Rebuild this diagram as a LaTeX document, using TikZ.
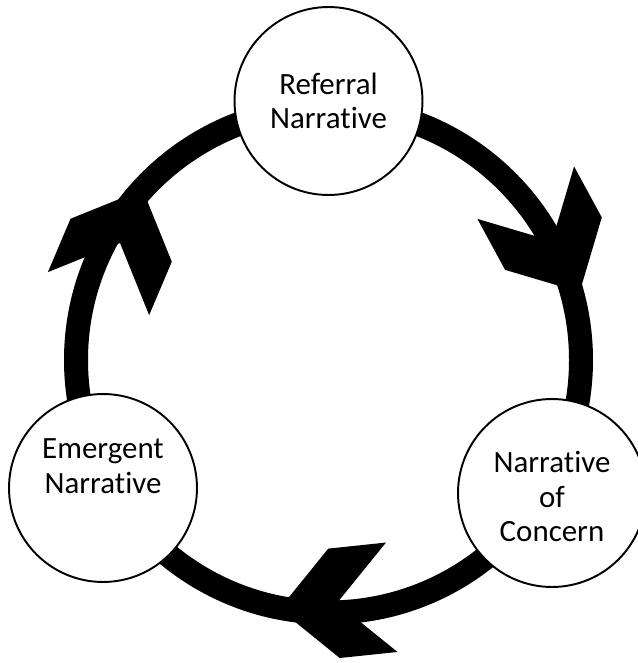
\documentclass[tikz,border=0pt]{standalone}
\usepackage{fontspec}
\setmainfont{Carlito}[Ligatures=NoCommon]
\begin{document}
\begin{tikzpicture}[x=0.02cm, y=-0.02cm,
  stage/.style={circle, draw=black, line width=1.1pt, fill=white,
    minimum size=3.76cm, inner sep=0pt},
  caption/.style={align=center, inner sep=0pt,
    font=\fontsize{17.6}{19.7}\selectfont},
  loopring/.style={draw=black, line width=0.48cm},
  chevron/.pic={\fill[black] (0,0) -- (-55,55) -- (3,55) -- (58,0)
    -- (3,-55) -- (-55,-55) -- cycle;}
]
\useasboundingbox (0,0) rectangle (638,663);

% the cycle ring
\coordinate (hub) at (328.5,360);
\draw[loopring] (hub) circle[radius=252.5];

% clockwise chevron heads on the ring
\pic[rotate=-61.5] (headA) at (552,241) {chevron};
\pic[rotate=67]    (headB) at (120,243) {chevron};
\pic[rotate=186]   (headC) at (337,603) {chevron};

% the three stages
\node[stage] (ref) at (328.5,101) {};
\node[stage] (noc) at (552,493) {};
\node[stage] (emg) at (103,488) {};

\node[caption] (refText) at (ref.center) {Referral\\Narrative};
\node[caption, yshift=-2pt] (nocText) at (noc.center) {Narrative\\of\\Concern};
\node[caption, yshift=12.5pt] (emgText) at (emg.center) {Emergent\\Narrative};
\end{tikzpicture}
\end{document}
